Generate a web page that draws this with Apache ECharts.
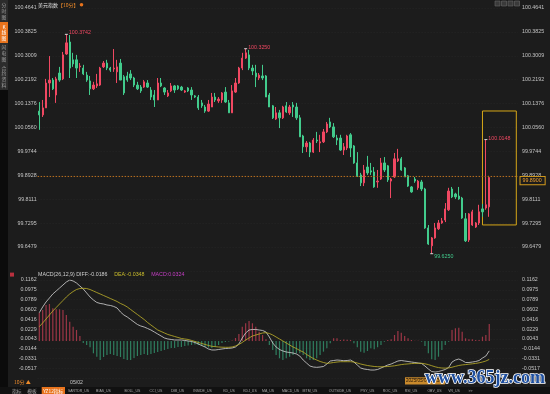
<!DOCTYPE html>
<html>
<head>
<meta charset="utf-8">
<title>美元指数 10分 K线</title>
<script src="https://cdn.jsdelivr.net/npm/echarts@6/dist/echarts.min.js"></script>
<style>
html,body{margin:0;padding:0;background:#1c1c1c;}
#chart{width:550px;height:394px;}
</style>
</head>
<body>
<div id="chart"></div>
<script>
// ---------------- data ----------------
const opens = [100.112,100.099,100.123,100.208,100.218,100.167,100.242,100.222,100.307,100.348,
100.287,100.287,100.263,100.259,100.235,100.215,100.188,100.198,100.201,100.263,
100.276,100.259,100.256,100.246,100.276,100.229,100.232,100.239,100.225,100.201,
100.194,100.194,100.208,100.184,100.167,100.150,100.208,100.191,100.164,100.181,
100.198,100.198,100.194,100.177,100.191,100.184,100.164,100.160,100.140,100.126,
100.112,100.126,100.160,100.147,100.150,100.177,100.140,100.106,100.177,100.208,
100.259,100.293,100.304,100.259,100.242,100.225,100.232,100.232,100.167,100.130,
100.085,100.106,100.089,100.130,100.106,100.133,100.126,100.089,100.027,99.990,
100.003,99.972,100.013,100.003,100.007,100.041,100.075,100.058,100.020,100.020,
99.979,99.986,100.031,99.993,99.935,99.894,99.867,99.921,99.908,99.904,
99.870,99.880,99.935,99.925,99.873,99.887,99.942,99.949,99.918,99.891,
99.853,99.880,99.850,99.870,99.846,99.713,99.652,99.679,99.710,99.730,
99.740,99.775,99.846,99.829,99.822,99.815,99.744,99.672,99.723,99.716,
99.730,99.778,99.781,99.785];
const closes = [100.099,100.123,100.208,100.218,100.188,100.222,100.218,100.304,100.345,100.259,
100.273,100.259,100.266,100.239,100.218,100.188,100.201,100.205,100.259,100.276,
100.259,100.252,100.259,100.263,100.218,100.174,100.218,100.225,100.201,100.188,
100.181,100.212,100.194,100.160,100.150,100.208,100.198,100.177,100.174,100.198,
100.184,100.188,100.184,100.181,100.181,100.167,100.160,100.123,100.130,100.112,
100.136,100.160,100.150,100.153,100.174,100.143,100.106,100.181,100.208,100.259,
100.293,100.311,100.259,100.249,100.229,100.235,100.225,100.160,100.126,100.089,
100.106,100.089,100.126,100.109,100.126,100.126,100.089,100.024,99.990,100.003,
99.972,100.013,100.010,100.007,100.041,100.068,100.058,100.024,100.013,99.979,
99.990,100.027,99.986,99.935,99.891,99.867,99.911,99.901,99.904,99.853,
99.873,99.935,99.911,99.877,99.880,99.949,99.949,99.911,99.887,99.856,
99.836,99.873,99.873,99.846,99.713,99.658,99.679,99.713,99.730,99.737,
99.778,99.839,99.819,99.819,99.812,99.747,99.669,99.761,99.768,99.730,
99.768,99.768,99.792,99.885];
const lows = [100.048,100.092,100.123,100.160,100.184,100.140,100.212,100.218,100.304,100.225,
100.263,100.225,100.246,100.235,100.212,100.167,100.184,100.191,100.198,100.259,
100.252,100.246,100.246,100.208,100.218,100.167,100.212,100.218,100.194,100.184,
100.174,100.191,100.191,100.150,100.126,100.150,100.194,100.167,100.160,100.177,
100.174,100.184,100.181,100.174,100.177,100.150,100.157,100.116,100.123,100.106,
100.109,100.126,100.143,100.140,100.140,100.140,100.106,100.106,100.174,100.205,
100.252,100.290,100.252,100.235,100.194,100.218,100.218,100.160,100.126,100.085,
100.082,100.054,100.085,100.106,100.099,100.092,100.082,100.024,99.969,99.972,
99.955,99.969,100.003,99.972,100.003,100.037,100.054,100.020,99.996,99.976,
99.962,99.979,99.955,99.932,99.887,99.856,99.856,99.894,99.894,99.850,
99.850,99.877,99.904,99.870,99.815,99.884,99.938,99.908,99.887,99.853,
99.833,99.867,99.843,99.839,99.710,99.655,99.625,99.676,99.706,99.727,
99.733,99.771,99.815,99.812,99.809,99.744,99.665,99.665,99.720,99.713,
99.723,99.751,99.775,99.751];
const highs = [100.143,100.150,100.222,100.300,100.225,100.229,100.263,100.314,100.3742,100.372,
100.311,100.304,100.276,100.270,100.246,100.232,100.212,100.239,100.263,100.283,
100.287,100.263,100.324,100.287,100.290,100.235,100.246,100.252,100.229,100.212,
100.201,100.218,100.218,100.194,100.184,100.225,100.225,100.194,100.184,100.208,
100.201,100.201,100.198,100.184,100.194,100.194,100.167,100.167,100.150,100.133,
100.150,100.174,100.174,100.160,100.177,100.194,100.150,100.201,100.225,100.263,
100.311,100.3250,100.321,100.270,100.270,100.242,100.270,100.235,100.174,100.133,
100.126,100.116,100.130,100.143,100.133,100.143,100.140,100.099,100.031,100.010,
100.007,100.020,100.041,100.031,100.051,100.075,100.089,100.071,100.031,100.031,
100.003,100.031,100.037,99.996,99.972,99.901,99.928,99.959,99.935,99.921,
99.911,99.952,99.955,99.928,99.884,99.969,99.983,99.955,99.921,99.894,
99.856,99.887,99.877,99.877,99.850,99.723,99.682,99.730,99.740,99.747,
99.798,99.850,99.853,99.833,99.853,99.819,99.764,99.764,99.775,99.733,
99.792,99.795,100.0148,99.891];

const macdDiff = [0.0540,0.0649,0.0744,0.0820,0.0896,0.0953,0.1010,0.1067,0.1124,0.1162,
0.1143,0.1105,0.1048,0.0991,0.0915,0.0839,0.0782,0.0735,0.0716,0.0706,
0.0687,0.0678,0.0659,0.0630,0.0553,0.0496,0.0458,0.0411,0.0363,0.0316,
0.0287,0.0268,0.0240,0.0211,0.0173,0.0135,0.0097,0.0059,0.0040,0.0031,
0.0021,0.0021,0.0021,0.0012,0.0002,-0.0007,-0.0026,-0.0055,-0.0084,-0.0112,
-0.0150,-0.0169,-0.0169,-0.0160,-0.0150,-0.0141,-0.0137,-0.0131,-0.0112,-0.0055,
0.0059,0.0154,0.0211,0.0221,0.0221,0.0211,0.0202,0.0173,0.0078,-0.0036,
-0.0112,-0.0160,-0.0188,-0.0207,-0.0217,-0.0226,-0.0245,-0.0284,-0.0360,-0.0417,
-0.0474,-0.0493,-0.0499,-0.0493,-0.0483,-0.0436,-0.0379,-0.0369,-0.0360,-0.0365,
-0.0373,-0.0369,-0.0360,-0.0398,-0.0455,-0.0512,-0.0531,-0.0540,-0.0550,-0.0550,
-0.0540,-0.0512,-0.0483,-0.0455,-0.0436,-0.0407,-0.0379,-0.0369,-0.0379,-0.0388,
-0.0398,-0.0407,-0.0417,-0.0426,-0.0474,-0.0531,-0.0579,-0.0588,-0.0579,-0.0560,
-0.0540,-0.0502,-0.0398,-0.0360,-0.0341,-0.0369,-0.0407,-0.0407,-0.0398,-0.0388,
-0.0369,-0.0322,-0.0284,-0.0186];
const macdDea = [0.0274,0.0345,0.0420,0.0496,0.0572,0.0639,0.0706,0.0772,0.0839,0.0896,
0.0943,0.0981,0.1000,0.1004,0.1000,0.0981,0.0953,0.0924,0.0896,0.0867,
0.0839,0.0810,0.0782,0.0753,0.0715,0.0687,0.0649,0.0601,0.0553,0.0506,
0.0458,0.0411,0.0354,0.0306,0.0259,0.0211,0.0183,0.0154,0.0126,0.0107,
0.0088,0.0069,0.0050,0.0040,0.0031,0.0012,-0.0007,-0.0026,-0.0045,-0.0064,
-0.0083,-0.0099,-0.0106,-0.0112,-0.0116,-0.0118,-0.0118,-0.0112,-0.0093,-0.0064,
-0.0026,0.0021,0.0059,0.0097,0.0116,0.0135,0.0154,0.0160,0.0145,0.0116,
0.0078,0.0040,0.0002,-0.0036,-0.0074,-0.0112,-0.0141,-0.0179,-0.0207,-0.0255,
-0.0293,-0.0331,-0.0360,-0.0388,-0.0407,-0.0423,-0.0417,-0.0407,-0.0398,-0.0392,
-0.0392,-0.0392,-0.0392,-0.0398,-0.0417,-0.0436,-0.0451,-0.0464,-0.0474,-0.0483,
-0.0487,-0.0489,-0.0487,-0.0483,-0.0477,-0.0470,-0.0458,-0.0447,-0.0439,-0.0434,
-0.0428,-0.0424,-0.0422,-0.0422,-0.0432,-0.0447,-0.0468,-0.0489,-0.0504,-0.0512,
-0.0514,-0.0510,-0.0497,-0.0480,-0.0464,-0.0453,-0.0447,-0.0439,-0.0432,-0.0424,
-0.0413,-0.0398,-0.0379,-0.0348];
const macdHist = [0.0540,0.0592,0.0687,0.0706,0.0624,0.0605,0.0605,0.0592,0.0497,0.0369,
0.0274,0.0211,0.0097,-0.0036,-0.0074,-0.0118,-0.0232,-0.0297,-0.0360,-0.0302,
-0.0264,-0.0245,-0.0264,-0.0283,-0.0302,-0.0340,-0.0360,-0.0360,-0.0321,-0.0283,
-0.0264,-0.0245,-0.0264,-0.0245,-0.0226,-0.0207,-0.0188,-0.0169,-0.0150,-0.0131,
-0.0131,-0.0112,-0.0112,-0.0093,-0.0084,-0.0074,-0.0065,-0.0074,-0.0093,-0.0112,
-0.0122,-0.0131,-0.0112,-0.0074,-0.0036,-0.0017,-0.0008,0.0011,0.0059,0.0135,
0.0274,0.0339,0.0383,0.0339,0.0274,0.0179,0.0116,0.0034,-0.0074,-0.0169,
-0.0264,-0.0327,-0.0360,-0.0327,-0.0297,-0.0264,-0.0232,-0.0232,-0.0264,-0.0327,
-0.0360,-0.0360,-0.0327,-0.0264,-0.0201,-0.0137,-0.0042,0.0053,0.0053,0.0021,
0.0030,0.0025,0.0021,-0.0042,-0.0118,-0.0201,-0.0220,-0.0188,-0.0137,-0.0156,
-0.0118,-0.0074,-0.0012,0.0021,0.0034,0.0116,0.0192,0.0160,0.0097,0.0053,
0.0021,0.0008,0.0008,-0.0012,-0.0093,-0.0232,-0.0346,-0.0360,-0.0297,-0.0169,
-0.0074,-0.0012,0.0211,0.0244,0.0255,0.0179,0.0053,0.0034,0.0034,0.0021,
0.0021,0.0084,0.0116,0.0324];

const xDayLabels = [[11, '05/02']];
const priceTicks = {min: 99.56628, max: 100.4641, step: 0.08162};
const macdTicks = {min: -0.07037, max: 0.11619, step: 0.018656};
const highMarks = [8, 61, 132];
const lowMarks = [116];
const highlightRange = {from: 131, to: 141, top: 100.1124, bottom: 99.7232};
const macdCursorValue = 0.0237;
const cursorTime = '2025/05/06 10:30';
const sideTabs = ['分时图', 'K线图', '闪电图', '合约资料'];
const indicatorTabs = ['指标','模板','YZ12指标','SARTDR_US','BIAS_US','BOLL_US','CCI_US','DMI_US',
  'INSIDE_US','KD_US','KDJ_US','MA_US','MACD_US','MTM_US','OUTSIDE_US','PSY_US','ROC_US','RSI_US',
  'OBV_US','VR_US','>>'];

// ---------------- chart ----------------
const N = opens.length, EXTRA = 8;
const cats = [];
for (let i = 0; i < N + EXTRA; i++) cats.push('k' + i);
const labelAt = {};
xDayLabels.forEach(([i, t]) => { labelAt[i] = t; });
const candleData = opens.map((o, i) => [o, closes[i], lows[i], highs[i]]);

const UP = '#f04862', DOWN = '#42cb8c';
const FONT = "'Liberation Sans','Noto Sans CJK SC',sans-serif";
const CJK = "'Noto Sans CJK SC',sans-serif";
const GL = 37.6, GW = 480.4;
const AX = '#c4c4c4';

function valueAxis(grid, pos, t, margin, split) {
  return {
    type: 'value', gridIndex: grid, position: pos,
    min: t.min, max: t.max, interval: t.step,
    axisLine: {show: false}, axisTick: {show: false},
    splitLine: {show: split, lineStyle: {color: '#262626', width: 1, type: [1, 2]}},
    axisLabel: {show: true, margin: margin, color: AX, fontSize: 5.3, fontFamily: FONT,
      showMinLabel: false, showMaxLabel: true, formatter: v => v.toFixed(4)}
  };
}

function txt(x, y, text, fill, size, extra) {
  return {type: 'text', x: x, y: y, silent: true, z: 10,
    style: Object.assign({text: text, fill: fill, fontSize: size, fontFamily: FONT,
      align: 'left', verticalAlign: 'middle'}, extra || {})};
}

const graphic = [];
// left side bar
graphic.push({type: 'rect', silent: true, shape: {x: 0, y: 0, width: 8, height: 90}, style: {fill: '#2c2c2c'}});
graphic.push({type: 'rect', silent: true, shape: {x: 0, y: 90, width: 8, height: 304}, style: {fill: '#0b0b0b'}});
graphic.push({type: 'rect', silent: true, shape: {x: 0, y: 22, width: 8, height: 21}, style: {fill: '#e8731c'}});
const sideCenters = [11, 32.5, 53, 76.5];
sideTabs.forEach((t, i) => {
  graphic.push(txt(4, sideCenters[i], t.split('').join('\n'), i === 1 ? '#ffffff' : '#a0a0a0', 4.8,
    {align: 'center', fontFamily: CJK, lineHeight: 5.8}));
});
// title
graphic.push({type: 'text', x: 38, y: 4.6, silent: true, z: 10, style: {
  text: '{a|美元指数}{b|【10分】}', verticalAlign: 'middle', align: 'left',
  rich: {a: {fill: '#e2e2e2', fontSize: 5, fontFamily: CJK}, b: {fill: '#f08c2a', fontSize: 5, fontFamily: CJK}}}});
graphic.push({type: 'circle', silent: true, shape: {cx: 81.5, cy: 4.8, r: 1.8}, style: {fill: '#e8731c'}});
// top right tool icons
[495, 501.5, 508, 514.5].forEach(x => {
  graphic.push({type: 'rect', silent: true, shape: {x: x, y: 1, width: 5, height: 5}, style: {fill: '#3a3a3a', stroke: '#6a6a6a', lineWidth: 0.6}});
});
// MACD header
graphic.push({type: 'rect', silent: true, shape: {x: 10, y: 272.6, width: 4, height: 4}, style: {fill: '#b8303e'}});
const lastDiff = macdDiff[N - 1], lastDea = macdDea[N - 1], lastHist = macdHist[N - 1];
graphic.push({type: 'text', x: 38, y: 274.7, silent: true, z: 10, style: {
  text: '{n|MACD(26,12,9) DIFF:' + lastDiff.toFixed(4) + '}  {y|DEA:' + lastDea.toFixed(4) + '}  {m|MACD:' + lastHist.toFixed(4) + '}',
  verticalAlign: 'middle', align: 'left',
  rich: {n: {fill: '#cfcfcf', fontSize: 5.3, fontFamily: FONT},
         y: {fill: '#cbbd2c', fontSize: 5.3, fontFamily: FONT},
         m: {fill: '#c63fc6', fontSize: 5.3, fontFamily: FONT}}}});
// period selector
graphic.push(txt(14, 382.3, '10分 ▲', '#ec8a2a', 5, {fontFamily: CJK}));
// bottom tab bar
graphic.push({type: 'rect', silent: true, shape: {x: 0, y: 387, width: 550, height: 7}, style: {fill: '#111111'}});
graphic.push({type: 'rect', silent: true, shape: {x: 41.7, y: 387, width: 23.3, height: 7}, style: {fill: '#e8731c'}});
const tabCenters = [16.7, 32, 53.3, 78.5, 103.5, 132.5, 156, 177.5, 202.5, 229, 250, 268, 290.5, 310, 340, 367.5, 390, 411, 434.5, 454, 470.5];
indicatorTabs.forEach((t, i) => {
  const isCjk = /[\u4e00-\u9fff]/.test(t);
  graphic.push(txt(tabCenters[i], 390.8, t, i === 2 ? '#ffffff' : '#a6a6a6', isCjk ? 4.8 : 3.5,
    {align: 'center', fontFamily: isCjk ? CJK : FONT}));
});
// crosshair time label
graphic.push({type: 'rect', silent: true, shape: {x: 405, y: 377.2, width: 40, height: 7.2}, style: {fill: '#c98a2c'}});
graphic.push(txt(406, 380.9, cursorTime, '#2a1a08', 4.6));
// watermark
graphic.push({type: 'text', x: 425, y: 378.8, silent: true, z: 100, style: {
  text: 'www.365jz.com', fill: '#1e4f9f', stroke: '#ffffff', lineWidth: 1.6,
  fontSize: 18, fontWeight: 'bold', fontFamily: "'Liberation Serif','DejaVu Serif',serif",
  align: 'left', verticalAlign: 'middle'}});

const boxLabel = {
  show: true, position: 'end', distance: 2.5, fontSize: 5.3, fontFamily: FONT,
  color: '#f0a232', backgroundColor: '#1c1c1c', borderColor: '#d49b1c', borderWidth: 1,
  padding: [1, 3, 1, 2]
};

const option = {
  backgroundColor: '#1c1c1c',
  animation: false,
  graphic: graphic,
  grid: [
    {left: GL, top: 8, width: GW, height: 262.9, containLabel: false, outerBoundsMode: 'none'},
    {left: GL, top: 280, width: GW, height: 98.1, containLabel: false, outerBoundsMode: 'none'}
  ],
  xAxis: [
    {type: 'category', gridIndex: 0, data: cats, boundaryGap: true,
     axisLine: {show: false}, axisTick: {show: false}, axisLabel: {show: false}, splitLine: {show: false}},
    {type: 'category', gridIndex: 1, data: cats, boundaryGap: true,
     axisLine: {show: false}, axisTick: {show: false}, splitLine: {show: false},
     axisLabel: {show: true, interval: (i) => labelAt[i] !== undefined, formatter: (v, i) => labelAt[i] || '',
       color: AX, fontSize: 5.2, fontFamily: FONT, margin: 2}}
  ],
  yAxis: [
    valueAxis(0, 'left', priceTicks, 1, true),
    valueAxis(0, 'right', priceTicks, 4, false),
    valueAxis(1, 'left', macdTicks, 1, true),
    valueAxis(1, 'right', macdTicks, 4, false)
  ],
  series: [
    {
      type: 'candlestick', xAxisIndex: 0, yAxisIndex: 0, data: candleData, barWidth: 1.8,
      itemStyle: {color: UP, color0: DOWN, borderColor: UP, borderColor0: DOWN, borderWidth: 1},
      markPoint: {
        symbol: 'rect', symbolSize: [3, 1], silent: true, animation: false,
        itemStyle: {color: '#d8d8d8'},
        label: {show: true, position: 'right', distance: 1, fontSize: 5.3, fontFamily: FONT, formatter: p => p.value},
        data: highMarks.map(i => ({coord: [i, highs[i]], value: highs[i].toFixed(4), label: {color: UP, offset: [0, -1.5]}}))
          .concat(lowMarks.map(i => ({coord: [i, lows[i]], value: lows[i].toFixed(4), label: {color: DOWN, offset: [0, 2.5]}})))
      },
      markLine: {
        symbol: ['none', 'none'], silent: true, animation: false,
        lineStyle: {color: '#b36b1e', type: [1.5, 1.5], width: 1},
        label: Object.assign({}, boxLabel, {offset: [0, 4.5], formatter: p => Number(p.value).toFixed(4)}),
        data: [{yAxis: closes[N - 1]}]
      },
      markArea: {
        silent: true, animation: false,
        itemStyle: {color: 'rgba(0,0,0,0)', borderColor: '#d6a718', borderWidth: 1},
        data: [[{xAxis: highlightRange.from, yAxis: highlightRange.top}, {xAxis: highlightRange.to, yAxis: highlightRange.bottom}]]
      }
    },
    {
      type: 'bar', xAxisIndex: 1, yAxisIndex: 2, data: macdHist, barWidth: 1.2,
      itemStyle: {color: p => (p.value >= 0 ? '#9c3646' : '#2f7e5f')},
      markLine: {
        symbol: ['none', 'none'], silent: true, animation: false,
        lineStyle: {opacity: 0},
        label: Object.assign({}, boxLabel, {color: '#ee9a3c', borderColor: '#b8621e', formatter: p => Number(p.value).toFixed(4)}),
        data: [{yAxis: macdCursorValue}]
      }
    },
    {
      type: 'line', xAxisIndex: 1, yAxisIndex: 2, data: macdDiff, symbol: 'none', showSymbol: false,
      lineStyle: {color: '#d6d6d6', width: 0.8}, itemStyle: {color: '#d6d6d6'}
    },
    {
      type: 'line', xAxisIndex: 1, yAxisIndex: 2, data: macdDea, symbol: 'none', showSymbol: false,
      lineStyle: {color: '#c0b22a', width: 0.8}, itemStyle: {color: '#c0b22a'}
    }
  ]
};

const chart = echarts.init(document.getElementById('chart'), null, {renderer: 'canvas'});
chart.setOption(option);
</script>
</body>
</html>
